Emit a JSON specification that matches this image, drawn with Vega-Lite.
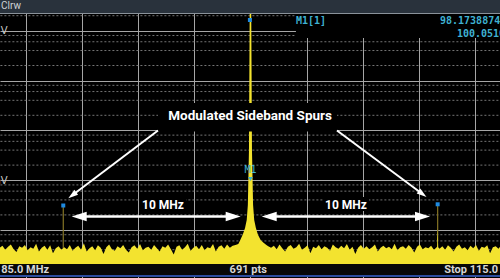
{
  "$schema": "https://vega.github.io/schema/vega-lite/v6.json",
  "width": 500,
  "height": 278,
  "autosize": {"type": "none"},
  "padding": 0,
  "background": "#000000",
  "config": {"view": {"stroke": null}, "axis": {"labels": false, "ticks": false, "domain": false, "grid": false}},
  "datasets": {
    "noise": [
      {"f": 86.60, "v": 44}, {"f": 86.75, "v": 48}, {"f": 86.90, "v": 40}, {"f": 87.05, "v": 46}, {"f": 87.20, "v": 51},
      {"f": 87.35, "v": 41}, {"f": 87.50, "v": 36}, {"f": 87.65, "v": 47}, {"f": 87.80, "v": 44}, {"f": 87.95, "v": 50},
      {"f": 88.10, "v": 39}, {"f": 88.25, "v": 45}, {"f": 88.40, "v": 42}, {"f": 88.55, "v": 53}, {"f": 88.70, "v": 37},
      {"f": 88.85, "v": 44}, {"f": 89.00, "v": 48}, {"f": 89.15, "v": 40}, {"f": 89.30, "v": 49}, {"f": 89.45, "v": 34},
      {"f": 89.60, "v": 43}, {"f": 89.75, "v": 47}, {"f": 89.90, "v": 40},
      {"f": 90.05, "v": 45}, {"f": 90.20, "v": 41}, {"f": 90.35, "v": 50}, {"f": 90.50, "v": 38}, {"f": 90.65, "v": 44},
      {"f": 90.80, "v": 48}, {"f": 90.95, "v": 40}, {"f": 91.10, "v": 54}, {"f": 91.25, "v": 37}, {"f": 91.40, "v": 43},
      {"f": 91.55, "v": 47}, {"f": 91.70, "v": 39}, {"f": 91.85, "v": 49}, {"f": 92.00, "v": 44}, {"f": 92.15, "v": 33},
      {"f": 92.30, "v": 45}, {"f": 92.45, "v": 51}, {"f": 92.60, "v": 41}, {"f": 92.75, "v": 38}, {"f": 92.90, "v": 47},
      {"f": 93.05, "v": 43}, {"f": 93.20, "v": 50}, {"f": 93.35, "v": 40}, {"f": 93.50, "v": 35}, {"f": 93.65, "v": 45},
      {"f": 93.80, "v": 49}, {"f": 93.95, "v": 42}, {"f": 94.10, "v": 52}, {"f": 94.25, "v": 39}, {"f": 94.40, "v": 44},
      {"f": 94.55, "v": 46}, {"f": 94.70, "v": 40}, {"f": 94.85, "v": 50}, {"f": 95.00, "v": 43}, {"f": 95.15, "v": 37},
      {"f": 95.30, "v": 47}, {"f": 95.45, "v": 44}, {"f": 95.60, "v": 51}, {"f": 95.75, "v": 41}, {"f": 95.90, "v": 32},
      {"f": 96.05, "v": 46}, {"f": 96.20, "v": 49}, {"f": 96.35, "v": 40}, {"f": 96.50, "v": 45}, {"f": 96.65, "v": 53},
      {"f": 96.80, "v": 38}, {"f": 96.95, "v": 44}, {"f": 97.10, "v": 48}, {"f": 97.25, "v": 41}, {"f": 97.40, "v": 50},
      {"f": 97.55, "v": 39}, {"f": 97.70, "v": 45}, {"f": 97.85, "v": 43}, {"f": 98.00, "v": 52}, {"f": 98.15, "v": 37},
      {"f": 98.30, "v": 46}, {"f": 98.45, "v": 49}, {"f": 98.60, "v": 42}, {"f": 98.75, "v": 51}, {"f": 98.90, "v": 44},
      {"f": 99.05, "v": 48}, {"f": 99.20, "v": 50},
      {"f": 99.35, "v": 52}, {"f": 99.45, "v": 62}, {"f": 99.60, "v": 83}, {"f": 99.71, "v": 109}, {"f": 99.80, "v": 158},
      {"f": 99.86, "v": 316}, {"f": 99.92, "v": 4000}, {"f": 99.96, "v": 3000000}, {"f": 100.00, "v": 8000000},
      {"f": 100.04, "v": 3000000}, {"f": 100.08, "v": 4000}, {"f": 100.14, "v": 316}, {"f": 100.20, "v": 158},
      {"f": 100.29, "v": 109}, {"f": 100.40, "v": 80}, {"f": 100.55, "v": 62}, {"f": 100.70, "v": 55}, {"f": 100.85, "v": 50},
      {"f": 100.95, "v": 47},
      {"f": 101.10, "v": 44}, {"f": 101.25, "v": 48}, {"f": 101.40, "v": 41}, {"f": 101.55, "v": 51}, {"f": 101.70, "v": 43},
      {"f": 101.85, "v": 37}, {"f": 102.00, "v": 46}, {"f": 102.15, "v": 50}, {"f": 102.30, "v": 42}, {"f": 102.45, "v": 45},
      {"f": 102.60, "v": 53}, {"f": 102.75, "v": 40}, {"f": 102.90, "v": 44}, {"f": 103.05, "v": 49}, {"f": 103.20, "v": 34},
      {"f": 103.35, "v": 46}, {"f": 103.50, "v": 43}, {"f": 103.65, "v": 50}, {"f": 103.80, "v": 41}, {"f": 103.95, "v": 47},
      {"f": 104.10, "v": 44}, {"f": 104.25, "v": 38}, {"f": 104.40, "v": 51}, {"f": 104.55, "v": 45}, {"f": 104.70, "v": 42},
      {"f": 104.85, "v": 48}, {"f": 105.00, "v": 43}, {"f": 105.15, "v": 52}, {"f": 105.30, "v": 40}, {"f": 105.45, "v": 46},
      {"f": 105.60, "v": 33}, {"f": 105.75, "v": 44}, {"f": 105.90, "v": 50}, {"f": 106.05, "v": 42}, {"f": 106.20, "v": 47},
      {"f": 106.35, "v": 41}, {"f": 106.50, "v": 45}, {"f": 106.65, "v": 51}, {"f": 106.80, "v": 37}, {"f": 106.95, "v": 44},
      {"f": 107.10, "v": 48}, {"f": 107.25, "v": 43}, {"f": 107.40, "v": 46}, {"f": 107.55, "v": 41}, {"f": 107.70, "v": 53},
      {"f": 107.85, "v": 39}, {"f": 108.00, "v": 45}, {"f": 108.15, "v": 47}, {"f": 108.30, "v": 42}, {"f": 108.45, "v": 50},
      {"f": 108.60, "v": 44}, {"f": 108.75, "v": 35}, {"f": 108.90, "v": 46}, {"f": 109.05, "v": 51}, {"f": 109.20, "v": 41},
      {"f": 109.35, "v": 45}, {"f": 109.50, "v": 43}, {"f": 109.65, "v": 48}, {"f": 109.80, "v": 40},
      {"f": 109.92, "v": 44}, {"f": 109.97, "v": 46}, {"f": 110.00, "v": 108}, {"f": 110.03, "v": 45}, {"f": 110.10, "v": 42},
      {"f": 110.25, "v": 47}, {"f": 110.40, "v": 40}, {"f": 110.55, "v": 49}, {"f": 110.70, "v": 44}, {"f": 110.85, "v": 37},
      {"f": 111.00, "v": 46}, {"f": 111.15, "v": 51}, {"f": 111.30, "v": 42}, {"f": 111.45, "v": 45}, {"f": 111.60, "v": 39},
      {"f": 111.75, "v": 48}, {"f": 111.90, "v": 43}, {"f": 112.05, "v": 50}, {"f": 112.20, "v": 38}, {"f": 112.35, "v": 46},
      {"f": 112.50, "v": 44}, {"f": 112.65, "v": 49}, {"f": 112.80, "v": 34}, {"f": 112.95, "v": 45}, {"f": 113.10, "v": 47},
      {"f": 113.25, "v": 42}, {"f": 113.40, "v": 50}
    ],
    "minorGrid": [
      {"v": 20}, {"v": 40}, {"v": 60}, {"v": 80},
      {"v": 200}, {"v": 400}, {"v": 600}, {"v": 800},
      {"v": 2000}, {"v": 4000}, {"v": 6000}, {"v": 8000},
      {"v": 20000}, {"v": 40000}, {"v": 60000}, {"v": 80000},
      {"v": 200000}, {"v": 400000}, {"v": 600000}, {"v": 800000},
      {"v": 2000000}, {"v": 4000000}
    ]
  },
  "layer": [
    {
      "data": {"name": "minorGrid"},
      "mark": {"type": "rule", "color": "#747474", "strokeWidth": 1, "strokeDash": [2, 2]},
      "encoding": {
        "x": {"datum": 86, "type": "quantitative", "title": null, "scale": {"domain": [86.62, 113.33], "nice": false, "zero": false}},
        "x2": {"datum": 114},
        "y": {"field": "v", "type": "quantitative", "title": null, "scale": {"type": "log", "domain": [10.817, 4136000], "nice": false}}
      }
    },
    {
      "data": {"values": [{"f": 90, "v": 309, "v2": 42}, {"f": 110, "v": 327, "v2": 60}]},
      "mark": {"type": "rule", "color": "#857425", "strokeWidth": 1.2},
      "encoding": {
        "x": {"field": "f", "type": "quantitative", "title": null, "scale": {"domain": [86.62, 113.33], "nice": false, "zero": false}},
        "y": {"field": "v", "type": "quantitative", "title": null, "scale": {"type": "log", "domain": [10.817, 4136000], "nice": false}},
        "y2": {"field": "v2"}
      }
    },
    {
      "data": {"name": "noise"},
      "mark": {"type": "area", "color": "#f3e32f", "opacity": 1, "interpolate": "linear"},
      "encoding": {
        "x": {"field": "f", "type": "quantitative", "title": null, "scale": {"domain": [86.62, 113.33], "nice": false, "zero": false},
          "axis": {"orient": "bottom", "values": [88, 91, 94, 97, 100, 103, 106, 109, 112], "grid": true, "gridColor": "#a6a6a6", "gridWidth": 1, "gridOpacity": 1, "labels": false, "ticks": false, "domain": false, "title": null}},
        "y": {"field": "v", "type": "quantitative", "title": null, "scale": {"type": "log", "domain": [10.817, 4136000], "nice": false},
          "axis": {"orient": "left", "values": [100, 1000, 10000, 100000, 1000000], "grid": true, "gridColor": "#a6a6a6", "gridWidth": 1, "gridOpacity": 1,
            "domain": false, "ticks": false, "tickSize": 0, "labels": true, "labelPadding": -7, "labelAlign": "right", "labelBaseline": "middle",
            "labelColor": "#c8c8c8", "labelFont": "DejaVu Sans", "labelFontSize": 10, "labelBound": false, "labelOverlap": false,
            "labelExpr": "datum.value == 1000000 ? '1 V' : datum.value == 1000 ? '1 mV' : ''", "title": null}},
        "y2": {"datum": 20.7}
      }
    },
    {
      "data": {"values": [{"f": 90, "v": 309}, {"f": 110, "v": 327}, {"f": 99.97, "v": 1640000}]},
      "mark": {"type": "point", "shape": "square", "filled": true, "size": 16, "color": "#1f8ae0", "opacity": 1},
      "encoding": {
        "x": {"field": "f", "type": "quantitative", "title": null},
        "y": {"field": "v", "type": "quantitative", "title": null}
      }
    },
    {
      "data": {"values": [
        {"f1": 102.43, "f2": 113.5, "v1": 713500, "v2": 2300000},
        {"f1": 95.06, "f2": 104.62, "v1": 9460, "v2": 35340},
        {"f1": 94.1, "f2": 96.56, "v1": 239.6, "v2": 457.7},
        {"f1": 103.87, "f2": 106.33, "v1": 239.6, "v2": 457.7}
      ]},
      "mark": {"type": "rect", "color": "#000000"},
      "encoding": {
        "x": {"field": "f1", "type": "quantitative", "title": null},
        "x2": {"field": "f2"},
        "y": {"field": "v1", "type": "quantitative", "title": null},
        "y2": {"field": "v2"}
      }
    },
    {
      "data": {"values": [{"f": 95.06, "v": 9908, "f2": 90.482, "v2": 495}, {"f": 104.622, "v": 9908, "f2": 109.189, "v2": 525.9}]},
      "mark": {"type": "rule", "color": "#ffffff", "strokeWidth": 2},
      "encoding": {
        "x": {"field": "f", "type": "quantitative", "title": null},
        "x2": {"field": "f2"},
        "y": {"field": "v", "type": "quantitative", "title": null},
        "y2": {"field": "v2"}
      }
    },
    {
      "data": {"values": [{"f": 90.984, "v": 185.8, "f2": 98.944}, {"f": 101.134, "v": 185.8, "f2": 109.056}]},
      "mark": {"type": "rule", "color": "#ffffff", "strokeWidth": 2.5},
      "encoding": {
        "x": {"field": "f", "type": "quantitative", "title": null},
        "x2": {"field": "f2"},
        "y": {"field": "v", "type": "quantitative", "title": null}
      }
    },
    {
      "data": {"values": [{"f": 90.45, "v": 185.8}, {"f": 100.6, "v": 185.8}]},
      "mark": {"type": "point", "shape": "M0,0L2,-0.62L2,0.62Z", "filled": true, "size": 225, "color": "#ffffff", "opacity": 1},
      "encoding": {
        "x": {"field": "f", "type": "quantitative", "title": null},
        "y": {"field": "v", "type": "quantitative", "title": null}
      }
    },
    {
      "data": {"values": [{"f": 99.478, "v": 185.8}, {"f": 109.59, "v": 185.8}]},
      "mark": {"type": "point", "shape": "M0,0L-2,-0.62L-2,0.62Z", "filled": true, "size": 225, "color": "#ffffff", "opacity": 1},
      "encoding": {
        "x": {"field": "f", "type": "quantitative", "title": null},
        "y": {"field": "v", "type": "quantitative", "title": null}
      }
    },
    {
      "data": {"values": [{"f": 90.269, "v": 430.9}]},
      "mark": {"type": "point", "shape": "M0,0L0.6,2L-0.6,2Z", "angle": 232.7, "filled": true, "size": 100, "color": "#ffffff", "opacity": 1},
      "encoding": {
        "x": {"field": "f", "type": "quantitative", "title": null},
        "y": {"field": "v", "type": "quantitative", "title": null}
      }
    },
    {
      "data": {"values": [{"f": 109.403, "v": 457.7}]},
      "mark": {"type": "point", "shape": "M0,0L0.6,2L-0.6,2Z", "angle": 126.9, "filled": true, "size": 100, "color": "#ffffff", "opacity": 1},
      "encoding": {
        "x": {"field": "f", "type": "quantitative", "title": null},
        "y": {"field": "v", "type": "quantitative", "title": null}
      }
    },
    {
      "data": {"values": [{"f": 99.98, "v": 16100, "label": "Modulated Sideband Spurs"}]},
      "mark": {"type": "text", "color": "#ffffff", "font": "Roboto", "fontWeight": "bold", "fontSize": 13.5, "align": "center", "baseline": "alphabetic"},
      "encoding": {
        "x": {"field": "f", "type": "quantitative", "title": null},
        "y": {"field": "v", "type": "quantitative", "title": null},
        "text": {"field": "label"}
      }
    },
    {
      "data": {"values": [{"f": 95.327, "v": 259.3, "label": "10 MHz"}, {"f": 105.103, "v": 259.3, "label": "10 MHz"}]},
      "mark": {"type": "text", "color": "#ffffff", "font": "Roboto", "fontWeight": "bold", "fontSize": 12, "align": "center", "baseline": "alphabetic"},
      "encoding": {
        "x": {"field": "f", "type": "quantitative", "title": null},
        "y": {"field": "v", "type": "quantitative", "title": null},
        "text": {"field": "label"}
      }
    },
    {
      "data": {"values": [
        {"f": 102.43, "v": 1363000, "label": "M1[1]"},
        {"f": 110.124, "v": 1363000, "label": "98.17388745 mV"},
        {"f": 111.03, "v": 757900, "label": "100.051000 MHz"}
      ]},
      "mark": {"type": "text", "color": "#3fb2d2", "font": "DejaVu Sans Mono", "fontWeight": "bold", "fontSize": 10, "align": "left", "baseline": "alphabetic"},
      "encoding": {
        "x": {"field": "f", "type": "quantitative", "title": null},
        "y": {"field": "v", "type": "quantitative", "title": null},
        "text": {"field": "label"}
      }
    },
    {
      "data": {"values": [{"f": 100, "v": 1369, "label": "M1"}]},
      "mark": {"type": "text", "color": "#3fb2d2", "font": "DejaVu Sans Mono", "fontSize": 10, "align": "center", "baseline": "alphabetic"},
      "encoding": {
        "x": {"field": "f", "type": "quantitative", "title": null},
        "y": {"field": "v", "type": "quantitative", "title": null},
        "text": {"field": "label"}
      }
    },
    {
      "data": {"values": [{"f": 100, "v": 1052}]},
      "mark": {"type": "point", "shape": "triangle-down", "filled": true, "size": 22, "color": "#3fb2d2", "opacity": 1},
      "encoding": {
        "x": {"field": "f", "type": "quantitative", "title": null},
        "y": {"field": "v", "type": "quantitative", "title": null}
      }
    },
    {
      "data": {"values": [{}]},
      "mark": {"type": "rect", "color": "#29323c"},
      "encoding": {
        "x": {"datum": 86, "type": "quantitative", "title": null}, "x2": {"datum": 114},
        "y": {"datum": 2267000, "type": "quantitative", "title": null}, "y2": {"datum": 6000000}
      }
    },
    {
      "data": {"values": [{}]},
      "mark": {"type": "rule", "color": "#8a929a", "strokeWidth": 1},
      "encoding": {
        "x": {"datum": 86, "type": "quantitative", "title": null}, "x2": {"datum": 114},
        "y": {"datum": 2215000, "type": "quantitative", "title": null}
      }
    },
    {
      "data": {"values": [{}]},
      "mark": {"type": "rect", "color": "#070707"},
      "encoding": {
        "x": {"datum": 86, "type": "quantitative", "title": null}, "x2": {"datum": 114},
        "y": {"datum": 12.43, "type": "quantitative", "title": null}, "y2": {"datum": 20.7}
      }
    },
    {
      "data": {"values": [{}]},
      "mark": {"type": "rect", "color": "#2c4c9e"},
      "encoding": {
        "x": {"datum": 86, "type": "quantitative", "title": null}, "x2": {"datum": 114},
        "y": {"datum": 11.33, "type": "quantitative", "title": null}, "y2": {"datum": 12.43}
      }
    },
    {
      "data": {"values": [{"f": 89.24, "v": 13.44, "label": "Start 85.0 MHz"}]},
      "mark": {"type": "text", "color": "#d6d6d6", "font": "Roboto", "fontWeight": "bold", "fontSize": 11, "align": "right", "baseline": "alphabetic"},
      "encoding": {
        "x": {"field": "f", "type": "quantitative", "title": null},
        "y": {"field": "v", "type": "quantitative", "title": null},
        "text": {"field": "label"}
      }
    },
    {
      "data": {"values": [{"f": 99.88, "v": 13.44, "label": "691 pts"}]},
      "mark": {"type": "text", "color": "#d6d6d6", "font": "Roboto", "fontWeight": "bold", "fontSize": 11, "align": "center", "baseline": "alphabetic"},
      "encoding": {
        "x": {"field": "f", "type": "quantitative", "title": null},
        "y": {"field": "v", "type": "quantitative", "title": null},
        "text": {"field": "label"}
      }
    },
    {
      "data": {"values": [{"f": 110.35, "v": 13.44, "label": "Stop 115.0 MHz"}]},
      "mark": {"type": "text", "color": "#d6d6d6", "font": "Roboto", "fontWeight": "bold", "fontSize": 11, "align": "left", "baseline": "alphabetic"},
      "encoding": {
        "x": {"field": "f", "type": "quantitative", "title": null},
        "y": {"field": "v", "type": "quantitative", "title": null},
        "text": {"field": "label"}
      }
    },
    {
      "data": {"values": [{"f": 86.673, "v": 2690000, "label": "Clrw"}]},
      "mark": {"type": "text", "color": "#cfd3d6", "font": "Roboto", "fontSize": 10, "align": "left", "baseline": "alphabetic"},
      "encoding": {
        "x": {"field": "f", "type": "quantitative", "title": null},
        "y": {"field": "v", "type": "quantitative", "title": null},
        "text": {"field": "label"}
      }
    }
  ]
}
